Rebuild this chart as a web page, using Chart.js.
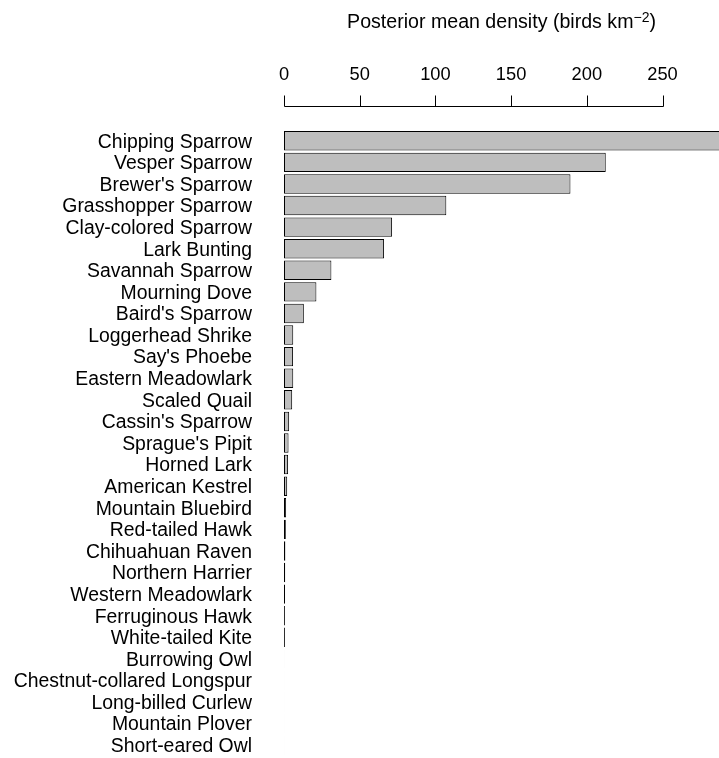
<!DOCTYPE html>
<html>
<head>
<meta charset="utf-8">
<script src="https://cdn.jsdelivr.net/npm/chart.js@4"></script>
<style>
  html, body { margin: 0; padding: 0; background: #fff; }
  canvas { display: block; }
</style>
</head>
<body>
<canvas id="density" width="719" height="758"></canvas>
<script>
const species = [
    'Chipping Sparrow', 'Vesper Sparrow', "Brewer's Sparrow", 'Grasshopper Sparrow',
    'Clay-colored Sparrow', 'Lark Bunting', 'Savannah Sparrow', 'Mourning Dove',
    "Baird's Sparrow", 'Loggerhead Shrike', "Say's Phoebe", 'Eastern Meadowlark',
    'Scaled Quail', "Cassin's Sparrow", "Sprague's Pipit", 'Horned Lark',
    'American Kestrel', 'Mountain Bluebird', 'Red-tailed Hawk', 'Chihuahuan Raven',
    'Northern Harrier', 'Western Meadowlark', 'Ferruginous Hawk', 'White-tailed Kite',
    'Burrowing Owl', 'Chestnut-collared Longspur', 'Long-billed Curlew',
    'Mountain Plover', 'Short-eared Owl'
];
const density = [
    295, 212.5, 189.2, 107.2, 71.4, 66.1, 31.3, 21.4, 13.1, 6.1, 6.0, 6.1,
    5.4, 3.4, 3.0, 2.7, 2.1, 1.4, 1.2, 0.9, 0.8, 0.7, 0.6, 0.6,
    0.06, 0.05, 0.05, 0.04, 0.04
];
const tickValues = [0, 50, 100, 150, 200, 250];

const FONT = 'Liberation Sans, Arial, Helvetica, sans-serif';

// axis line spanning only the labelled ticks, plus the title with superscript
const topAxis = {
    id: 'topAxis',
    afterDraw(chart) {
        const c = chart.ctx;
        const x = chart.scales.x;
        const area = chart.chartArea;
        const y0 = Math.round(area.top - 24) + 0.5;
        c.save();
        c.strokeStyle = '#000';
        c.lineWidth = 1;
        c.beginPath();
        c.moveTo(Math.round(x.getPixelForValue(tickValues[0])) + 0.5, y0);
        c.lineTo(Math.round(x.getPixelForValue(tickValues[tickValues.length - 1])) + 0.5, y0);
        tickValues.forEach(v => {
            const px = Math.round(x.getPixelForValue(v)) + 0.5;
            c.moveTo(px, y0);
            c.lineTo(px, y0 - 11);
        });
        c.stroke();

        const main = 'Posterior mean density (birds km';
        const sup = '\u22122';
        const close = ')';
        c.fillStyle = '#000';
        c.textBaseline = 'alphabetic';
        c.font = '19.6px ' + FONT;
        const wMain = c.measureText(main).width;
        const wClose = c.measureText(close).width;
        c.font = '14px ' + FONT;
        const wSup = c.measureText(sup).width;
        const total = wMain + wSup + wClose;
        let tx = (area.left + area.right) / 2 - total / 2;
        const base = 27.5;
        c.textAlign = 'left';
        c.font = '19.6px ' + FONT;
        c.fillText(main, tx, base);
        tx += wMain;
        c.font = '14px ' + FONT;
        c.fillText(sup, tx, base - 6);
        tx += wSup;
        c.font = '19.6px ' + FONT;
        c.fillText(close, tx, base);
        c.restore();
    }
};

new Chart(document.getElementById('density').getContext('2d'), {
    type: 'bar',
    data: {
        labels: species,
        datasets: [{
            data: density,
            backgroundColor: '#bebebe',
            borderColor: '#000',
            borderWidth: 1,
            borderSkipped: false,
            barPercentage: 0.9,
            categoryPercentage: 1.0
        }]
    },
    options: {
        indexAxis: 'y',
        responsive: false,
        animation: false,
        layout: { padding: { top: 0, right: 0, bottom: 2, left: 0 } },
        plugins: {
            legend: { display: false },
            tooltip: { enabled: false }
        },
        scales: {
            x: {
                position: 'top',
                min: 0,
                max: 287.3,
                afterBuildTicks: scale => {
                    scale.ticks = tickValues.map(v => ({ value: v }));
                },
                afterFit: scale => {
                    scale.height = 130;
                    scale.paddingLeft = 0;
                    scale.paddingRight = 0;
                },
                grid: { display: false, drawTicks: false },
                border: { display: false },
                ticks: {
                    color: '#000',
                    padding: 44,
                    maxRotation: 0,
                    autoSkip: false,
                    font: { family: FONT, size: 18.3 }
                }
            },
            y: {
                afterFit: scale => {
                    scale.width = 284;
                    scale.paddingTop = 0;
                    scale.paddingBottom = 0;
                },
                grid: { display: false, drawTicks: false },
                border: { display: false },
                ticks: {
                    color: '#000',
                    padding: 32,
                    labelOffset: 1.5,
                    autoSkip: false,
                    font: { family: FONT, size: 19.4 }
                }
            }
        }
    },
    plugins: [topAxis]
});
</script>
</body>
</html>
